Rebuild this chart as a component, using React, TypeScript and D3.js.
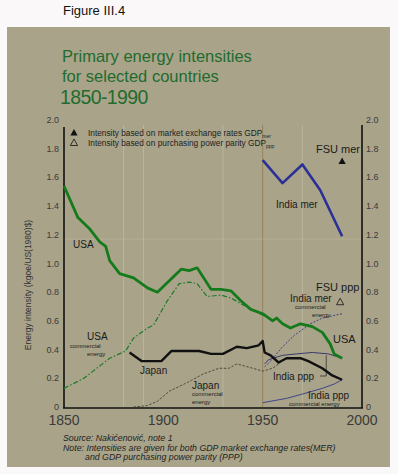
import * as d3 from "d3";

// values (year, kgoe per US(1980)$)
const usa: [number, number][] = [
  [1850, 1.54], [1857, 1.32], [1863, 1.24], [1868, 1.15], [1871, 1.12], [1873, 1.02],
  [1878, 0.93], [1885, 0.9], [1892, 0.83], [1897, 0.8], [1903, 0.88], [1909, 0.96],
  [1913, 0.95], [1917, 0.97], [1924, 0.82], [1929, 0.82], [1934, 0.81], [1939, 0.74],
  [1944, 0.68], [1950, 0.65], [1955, 0.6], [1957, 0.62], [1960, 0.58], [1964, 0.55],
  [1969, 0.58], [1975, 0.56], [1980, 0.52], [1984, 0.44], [1986, 0.37], [1990, 0.34],
];
const usaCommercial: [number, number][] = [
  [1850, 0.13], [1860, 0.2], [1873, 0.34], [1881, 0.39], [1885, 0.48], [1892, 0.55],
  [1895, 0.57], [1902, 0.74], [1908, 0.86], [1913, 0.87], [1917, 0.86], [1922, 0.77],
  [1929, 0.78], [1934, 0.76], [1939, 0.72], [1947, 0.66], [1953, 0.62],
];
const japan: [number, number][] = [
  [1883, 0.38], [1889, 0.32], [1899, 0.32], [1904, 0.39], [1918, 0.39], [1924, 0.37],
  [1930, 0.37], [1937, 0.42], [1942, 0.41], [1948, 0.43], [1950, 0.46], [1951, 0.38],
  [1954, 0.36], [1958, 0.31], [1962, 0.34], [1969, 0.34], [1973, 0.32], [1980, 0.27],
  [1985, 0.22], [1990, 0.19],
];
const japanCommercial: [number, number][] = [
  [1885, 0.0], [1892, 0.01], [1897, 0.04], [1903, 0.11], [1912, 0.17], [1920, 0.23],
  [1928, 0.27], [1933, 0.27], [1937, 0.3], [1945, 0.27], [1950, 0.25], [1955, 0.27],
  [1959, 0.31],
];
const indiaMer: [number, number][] = [
  [1950, 1.72], [1960, 1.56], [1970, 1.69], [1979, 1.51], [1990, 1.19],
];
const indiaMerCommercial: [number, number][] = [
  [1951, 0.28], [1954, 0.32], [1960, 0.42], [1966, 0.5], [1974, 0.58], [1980, 0.62],
  [1990, 0.65],
];
const indiaPpp: [number, number][] = [
  [1951, 0.3], [1953, 0.33], [1960, 0.36], [1967, 0.37], [1975, 0.38], [1983, 0.37],
  [1990, 0.34],
];
const indiaPppCommercial: [number, number][] = [
  [1950, 0.03], [1962, 0.06], [1970, 0.09], [1980, 0.13], [1986, 0.16], [1990, 0.19],
];
const fsuMer: [number, number] = [1990, 1.71];
const fsuPpp: [number, number] = [1990, 0.73];

const yTicks = [0, 0.2, 0.4, 0.6, 0.8, 1.0, 1.2, 1.4, 1.6, 1.8, 2.0];
const xTicks = [1850, 1900, 1950, 2000];
const gridYears = [1880, 1890, 1930, 1970];

const x = d3.scaleLinear().domain([1850, 2000]).range([64, 362]);
const y = d3.scaleLinear().domain([0, 2]).range([407, 120]);
const line = d3.line<[number, number]>().x((d) => x(d[0])).y((d) => y(d[1]));

const font = "Liberation Sans, Arial, sans-serif";

export default function App() {
  const tri = (cx: number, cy: number) =>
    `M${cx},${cy - 4} L${cx + 3.6},${cy + 2.5} L${cx - 3.6},${cy + 2.5} Z`;
  return (
    <svg
      width={398}
      height={474}
      style={{ position: "absolute", left: 0, top: 0, background: "#fbf8f9" }}
      fontFamily={font}
    >
      <rect x={7} y={27} width={383} height={440} fill="#a9a489" />

      {/* header */}
      <text x={63} y={15} fontSize={13} fill="#111">Figure III.4</text>
      <g fill="#226b2e">
        <text x={62} y={62} fontSize={16.5}>Primary energy intensities</text>
        <text x={62} y={82} fontSize={16.5}>for selected countries</text>
        <text x={60} y={104} fontSize={19.5} letterSpacing={-0.6}>1850-1990</text>
      </g>

      {/* faint grid */}
      {gridYears.map((g) => (
        <line key={g} x1={x(g)} x2={x(g)} y1={125} y2={407} stroke="#c4c0ad" strokeWidth={0.6} />
      ))}
      <line x1={x(1950)} x2={x(1950)} y1={125} y2={407} stroke="#8a6a3a" strokeWidth={0.6} />
      <line x1={64} x2={362} y1={y(1.17)} y2={y(1.17)} stroke="#bdb9a6" strokeWidth={0.5} />

      {/* axes */}
      <g stroke="#111" strokeWidth={1.6}>
        <line x1={64} x2={64} y1={127} y2={408} />
        <line x1={362} x2={362} y1={125} y2={408} />
        <line x1={63} x2={363} y1={408} y2={408} />
      </g>
      <g fontSize={9} fill="#3a3a3a">
        {yTicks.map((t) => (
          <g key={t}>
            <text x={59} y={y(t) + 3} textAnchor="end">{t === 0 ? "0" : t.toFixed(1)}</text>
            <text x={366} y={y(t) + 3}>{t === 0 ? "0" : t.toFixed(1)}</text>
          </g>
        ))}
      </g>
      <g fontSize={14} fill="#3a3a3a">
        {xTicks.map((t) => (
          <text key={t} x={x(t)} y={425} textAnchor="middle">{t}</text>
        ))}
      </g>
      <text
        transform="translate(31,285) rotate(-90)"
        fontSize={8.5}
        fill="#333"
        textAnchor="middle"
      >
        Energy intensity (kgoe/US(1980)$)
      </text>

      {/* legend */}
      <path d={tri(74, 133)} fill="#111" />
      <path d={tri(74, 143)} fill="none" stroke="#111" strokeWidth={0.8} />
      <g fontSize={8.3} fill="#222">
        <text x={88} y={136}>
          Intensity based on market exchange rates GDP
          <tspan fontSize={5} dy={2}>mer</tspan>
        </text>
        <text x={88} y={146}>
          Intensity based on purchasing power parity GDP
          <tspan fontSize={5} dy={2}>ppp</tspan>
        </text>
      </g>

      {/* thin series */}
      <path d={line(japanCommercial)!} fill="none" stroke="#3b352c" strokeWidth={0.8} strokeDasharray="2.5,1.5" />
      <path d={line(usaCommercial)!} fill="none" stroke="#1d7a2a" strokeWidth={1.2} strokeDasharray="5,2,1.5,2" />
      <path d={line(indiaMerCommercial)!} fill="none" stroke="#2f3480" strokeWidth={0.9} strokeDasharray="2,1.5" />
      <path d={line(indiaPpp)!} fill="none" stroke="#2a2e6a" strokeWidth={0.9} />
      <path d={line(indiaPppCommercial)!} fill="none" stroke="#333a8a" strokeWidth={0.9} />
      <path d={`M320,376 L${x(1982)},376 L${x(1982)},${y(0.36)}`} fill="none" stroke="#222" strokeWidth={0.7} />

      {/* thick series */}
      <path d={line(usa)!} fill="none" stroke="#157a1c" strokeWidth={2.8} strokeLinejoin="round" />
      <path d={line(japan)!} fill="none" stroke="#111" strokeWidth={2.4} strokeLinejoin="round" />
      <path d={line(indiaMer)!} fill="none" stroke="#2c2f96" strokeWidth={2.6} strokeLinejoin="round" />

      {/* FSU markers */}
      <path d={tri(x(fsuMer[0]), y(fsuMer[1]))} fill="#111" />
      <path d={tri(x(fsuPpp[0]) - 2, y(fsuPpp[1]))} fill="none" stroke="#111" strokeWidth={0.8} />

      {/* labels */}
      <g fill="#1a1a1a" fontSize={10}>
        <text x={73} y={248}>USA</text>
        <text x={276} y={208}>India mer</text>
        <text x={316} y={153} fontSize={11}>FSU mer</text>
        <text x={316} y={291} fontSize={11}>FSU ppp</text>
        <text x={290} y={302}>India mer</text>
        <text x={333} y={343} fontSize={11}>USA</text>
        <text x={273} y={380}>India ppp</text>
        <text x={140} y={374}>Japan</text>
        <text x={192} y={389}>Japan</text>
        <text x={87} y={340}>USA</text>
        <text x={308} y={399}>India ppp</text>
      </g>
      <g fill="#1a1a1a" fontSize={6}>
        <text x={295} y={309}>commercial</text>
        <text x={312} y={317}>energy</text>
        <text x={192} y={396}>commercial</text>
        <text x={192} y={404}>energy</text>
        <text x={70} y={348}>commercial</text>
        <text x={87} y={356}>energy</text>
        <text x={289} y={406}>commercial energy</text>
      </g>

      {/* source */}
      <g fontSize={8.8} fontStyle="italic" fill="#222">
        <text x={63} y={441}>Source: Nakićenović, note 1</text>
        <text x={63} y={451}>Note: Intensities are given for both GDP market exchange rates(MER)</text>
        <text x={85} y={460}>and GDP purchasing power parity (PPP)</text>
      </g>
    </svg>
  );
}
